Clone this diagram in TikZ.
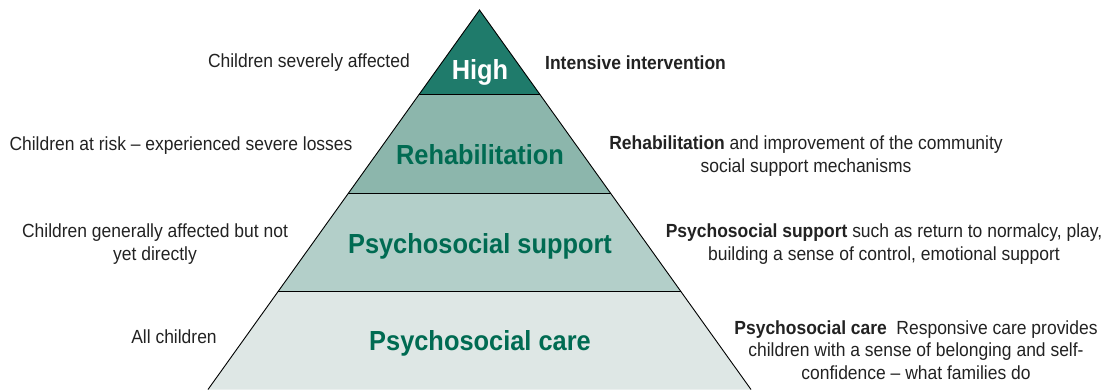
\documentclass[tikz,border=0pt]{standalone}
\usepackage{fontspec}
\setmainfont{Liberation Sans}[FakeStretch=0.92]
\definecolor{tealdark}{HTML}{1F7B6B}
\definecolor{tealmid}{HTML}{8CB6AC}
\definecolor{teallight}{HTML}{B3CFC9}
\definecolor{tealpale}{HTML}{DEE7E5}
\definecolor{tealtext}{HTML}{006B52}
\definecolor{txt}{HTML}{222222}
\tikzset{
  layer/.style={draw=black, line width=0.9pt, line join=miter},
  side/.style={font=\fontsize{19}{22.5}\selectfont, text=txt, inner sep=0pt, align=center},
  tier/.style={font=\fontsize{27.6}{30}\selectfont\bfseries, text=tealtext, inner sep=0pt},
}
\begin{document}
\begin{tikzpicture}[x=1pt,y=-1pt]
\useasboundingbox (0,0) rectangle (1108,390);
% pyramid layers
\fill[tealpale] (278.2,291) -- (680.8,291) -- (751,389.5) -- (208,389.5) -- cycle;
\fill[teallight] (348.4,193) -- (610.6,193) -- (680.8,291) -- (278.2,291) -- cycle;
\fill[tealmid] (419.3,94) -- (539.7,94) -- (610.6,193) -- (348.4,193) -- cycle;
\fill[tealdark] (479.5,10) -- (539.7,94) -- (419.3,94) -- cycle;
\draw[layer] (208,389.5) -- (479.5,10) -- (751,389.5);
\draw[layer] (419.3,94) -- (539.7,94);
\draw[layer] (348.4,193) -- (610.6,193);
\draw[layer] (278.2,291) -- (680.8,291);
% tier labels
\node[tier, text=white] (high) at (480,72) {High};
\node[tier] (rehab) at (480,155) {Rehabilitation};
\node[tier] (support) at (480,246) {Psychosocial support};
\node[tier] (care) at (480,343) {Psychosocial care};
% left labels
\node[side, anchor=east] (l1) at (410,63) {Children severely affected};
\node[side] (l2) at (181,146) {Children at risk – experienced severe losses};
\node[side] (l3) at (155,244) {Children generally affected but not\\yet directly};
\node[side] (l4) at (174,337) {All children};
% right labels
\node[side, anchor=west, font=\fontsize{19}{22.5}\selectfont\bfseries] (r1) at (545,63) {Intensive intervention};
\node[side] (r2) at (806,156) {\textbf{Rehabilitation} and improvement of the community\\social support mechanisms};
\node[side] (r3) at (884,244) {\textbf{Psychosocial support} such as return to normalcy, play,\\building a sense of control, emotional support};
\node[side] (r4) at (916,350) {\textbf{Psychosocial care}\enspace Responsive care provides\\children with a sense of belonging and self-\\confidence – what families do};
\end{tikzpicture}
\end{document}
